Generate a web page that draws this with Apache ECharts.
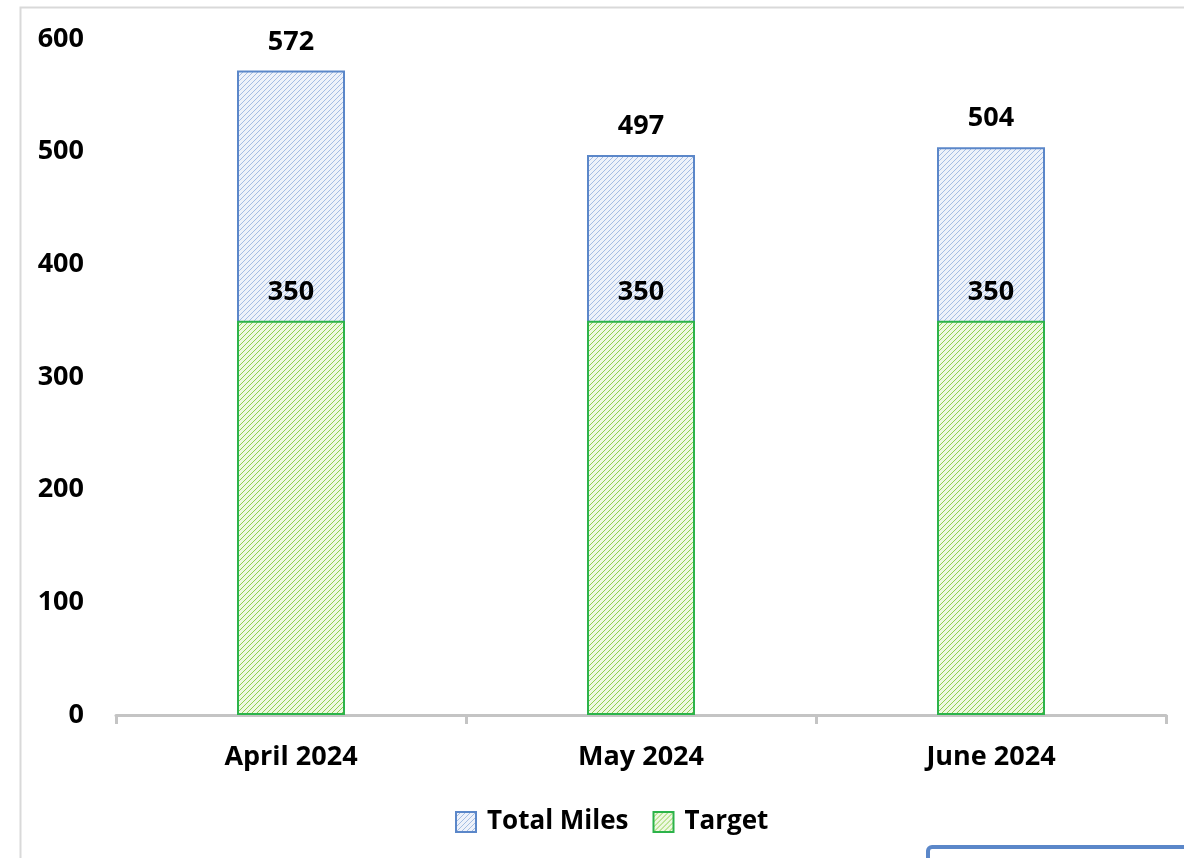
<!DOCTYPE html>
<html>
<head>
<meta charset="utf-8">
<script src="https://cdn.jsdelivr.net/npm/echarts@6/dist/echarts.min.js"></script>
<style>
  html, body { margin: 0; padding: 0; background: #fff; }
  #chart { width: 1184px; height: 858px; }
</style>
</head>
<body>
<div id="chart"></div>
<script>
var months = ['April 2024', 'May 2024', 'June 2024']
var totalMiles = [572, 497, 504]
var target = [350, 350, 350]

// small diagonal hatch tile, like the Excel pattern fill
function hatch(bg, line) {
  var n = 5
  var c = document.createElement('canvas')
  c.width = n
  c.height = n
  var ctx = c.getContext('2d')
  ctx.fillStyle = bg
  ctx.fillRect(0, 0, n, n)
  ctx.fillStyle = line
  for (var i = 0; i < n; i++) {
    ctx.fillRect(i, n - 1 - i, 1, 1)
  }
  return { image: c, repeat: 'repeat' }
}

var font = '"Open Sans", sans-serif'
var bold = { fontSize: 27, fontWeight: 'bold', color: '#000', fontFamily: font }

var myChart = echarts.init(document.getElementById('chart'))
var option = {
  animation: false,
  backgroundColor: '#fff',
  textStyle: { fontFamily: font },
  grid: { left: 116, right: 18, top: 39, bottom: 143 },
  legend: {
    top: 804,
    left: 450,
    icon: 'rect',
    itemWidth: 20,
    itemHeight: 20,
    itemGap: 24,
    textStyle: Object.assign({ padding: [0, 0, 0, 6] }, bold, { fontSize: 26 }),
    data: ['Total Miles', 'Target']
  },
  xAxis: {
    type: 'category',
    data: months,
    axisLine: { lineStyle: { color: '#c4c4c4', width: 3 } },
    axisTick: { show: true, length: 9, lineStyle: { color: '#c4c4c4', width: 3 } },
    axisLabel: Object.assign({ margin: 29 }, bold)
  },
  yAxis: {
    type: 'value',
    min: 0,
    max: 600,
    interval: 100,
    axisLine: { show: false },
    axisTick: { show: false },
    splitLine: { show: false },
    axisLabel: Object.assign({ margin: 32 }, bold)
  },
  series: [
    {
      name: 'Total Miles',
      type: 'bar',
      data: totalMiles,
      barWidth: 108,
      barGap: '-100%',
      itemStyle: {
        color: hatch('#eef2fa', '#a5bde3'),
        borderColor: '#5b87c9',
        borderWidth: 2
      },
      label: Object.assign({ show: true, position: 'top', distance: 15 }, bold)
    },
    {
      name: 'Target',
      type: 'bar',
      data: target,
      barWidth: 108,
      itemStyle: {
        color: hatch('#eef8e2', '#8fd14f'),
        borderColor: '#2cb34a',
        borderWidth: 2
      },
      label: Object.assign({ show: true, position: 'top', distance: 15 }, bold)
    }
  ],
  graphic: {
    elements: [
      {
        type: 'rect',
        left: 18,
        top: 5,
        shape: { width: 1300, height: 1000 },
        style: { fill: 'none', stroke: '#d9d9d9', lineWidth: 2 },
        silent: true
      },
      {
        type: 'rect',
        left: 926,
        top: 845,
        shape: { width: 400, height: 60, r: 4 },
        style: { fill: '#fff', stroke: '#5b87c9', lineWidth: 4 },
        silent: true
      }
    ]
  }
}

myChart.setOption(option)
</script>
</body>
</html>
